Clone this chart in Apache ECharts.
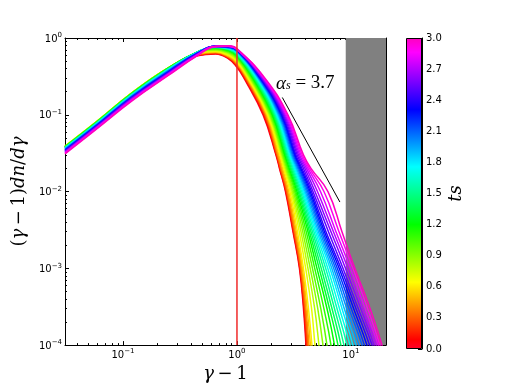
<!DOCTYPE html>
<html><head><meta charset="utf-8">
<script src="https://cdn.jsdelivr.net/npm/echarts@6/dist/echarts.min.js"></script>
<style>html,body{margin:0;padding:0;background:#fff}#c{width:518px;height:388px}</style>
</head><body><div id="c"></div>
<script>
// ---- data: one curve per ts value ----
const ts = [0.0,0.1,0.2,0.3,0.4,0.5,0.6,0.7,0.8,0.9,1.0,1.1,1.2,1.3,1.4,1.5,1.6,1.7,1.8,1.9,2.0,2.1,2.2,2.3,2.4,2.5,2.6,2.7,2.8,2.9,3.0];

// low-energy part: y value of every curve at fixed gamma-1
const lowX = [0.031, 0.06, 0.12, 0.25, 0.45, 0.65, 0.85, 1.0];
const yAt0031 = [.0370,.0373,.0377,.0380,.0383,.0387,.0390,.0388,.0387,.0385,.0383,.0382,.0380,.0378,.0375,.0373,.0370,.0368,.0365,.0361,.0357,.0353,.0348,.0344,.0340,.0335,.0330,.0325,.0320,.0315,.0310];
const yAt006 = [.0800,.0807,.0813,.0820,.0827,.0833,.0840,.0837,.0833,.0830,.0827,.0823,.0820,.0813,.0807,.0800,.0793,.0787,.0780,.0772,.0763,.0755,.0747,.0738,.0730,.0720,.0710,.0700,.0690,.0680,.0670];
const yAt012 = [.1860,.1873,.1887,.1900,.1913,.1927,.1940,.1933,.1927,.1920,.1913,.1907,.1900,.1883,.1867,.1850,.1833,.1817,.1800,.1778,.1757,.1735,.1713,.1692,.1670,.1645,.1620,.1595,.1570,.1545,.1520];
const yAt025 = [.395,.3975,.400,.4025,.405,.4075,.410,.4092,.4083,.4075,.4067,.4058,.405,.4017,.3983,.395,.3917,.3883,.385,.380,.375,.370,.365,.360,.355,.350,.345,.340,.335,.330,.325];
const yAt045 = [.585,.5917,.5983,.605,.6117,.6183,.625,.6308,.6367,.6425,.6483,.6542,.660,.6583,.6567,.655,.6533,.6517,.650,.6458,.6417,.6375,.6333,.6292,.625,.6192,.6133,.6075,.6017,.5958,.590];
const yAt065 = [.620,.6275,.635,.6425,.650,.6575,.665,.6783,.6917,.705,.7183,.7317,.745,.7492,.7533,.7575,.7617,.7658,.770,.7717,.7733,.775,.7767,.7783,.780,.7792,.7783,.7775,.7767,.7758,.775];
const yAt085 = [.530,.540,.550,.560,.570,.580,.590,.6067,.6233,.640,.6567,.6733,.690,.6975,.705,.7125,.720,.7275,.735,.7408,.7467,.7525,.7583,.7642,.770,.7733,.7767,.780,.7833,.7867,.790];
const yAt1 = [.415,.4275,.440,.4525,.465,.4775,.490,.5067,.5233,.540,.5567,.5733,.590,.6008,.6117,.6225,.6333,.6442,.655,.6633,.6717,.680,.6883,.6967,.705,.7083,.7117,.715,.7183,.7217,.725];

// high-energy tail: gamma-1 at which every curve crosses fixed levels
const tailLevels = [0.3, 0.1, 0.03, 0.02, 0.01, 0.003, 0.001, 0.0003, 0.0001, 0.00003];
const xAt03 = [1.152,1.168,1.183,1.199,1.216,1.231,1.249,1.269,1.293,1.313,1.335,1.359,1.382,1.403,1.424,1.446,1.468,1.490,1.513,1.532,1.551,1.568,1.585,1.604,1.624,1.647,1.667,1.691,1.715,1.735,1.760];
const xAt01 = [1.691,1.717,1.742,1.769,1.796,1.823,1.851,1.881,1.916,1.947,1.979,2.015,2.048,2.081,2.119,2.154,2.189,2.229,2.266,2.303,2.345,2.383,2.422,2.467,2.507,2.552,2.600,2.650,2.702,2.752,2.801];
const xAt003 = [2.198,2.216,2.234,2.257,2.289,2.331,2.383,2.422,2.467,2.507,2.547,2.594,2.637,2.686,2.735,2.788,2.841,2.894,2.946,3.000,3.055,3.115,3.175,3.233,3.293,3.377,3.463,3.552,3.643,3.736,3.831];
const xAt002 = [2.360,2.379,2.397,2.427,2.462,2.512,2.568,2.618,2.669,2.721,2.774,2.827,2.882,2.941,3.000,3.065,3.130,3.194,3.260,3.333,3.408,3.480,3.555,3.636,3.717,3.831,3.949,4.071,4.196,4.325,4.458];
const xAt001 = [2.664,2.688,2.713,2.746,2.788,2.847,2.917,2.988,3.055,3.130,3.207,3.280,3.360,3.442,3.519,3.606,3.695,3.778,3.870,3.969,4.071,4.175,4.282,4.391,4.503,4.642,4.834,5.084,5.401,5.797,6.285];
const xAt3em3 = [3.099,3.127,3.156,3.194,3.243,3.313,3.394,3.516,3.643,3.774,3.909,4.050,4.196,4.325,4.458,4.595,4.737,4.883,5.033,5.188,5.347,5.511,5.681,5.856,6.036,6.348,6.678,7.023,7.388,7.849,8.34];
const xAt1em3 = [3.533,3.562,3.592,3.628,3.680,3.747,3.831,4.009,4.196,4.391,4.595,4.809,5.033,5.261,5.489,5.738,6.000,6.259,6.544,6.787,7.052,7.313,7.584,7.880,8.17,8.51,8.95,9.41,9.90,10.4,10.8];
const xAt3em4 = [3.831,3.870,3.909,3.961,4.030,4.124,4.238,4.512,4.804,5.110,5.434,5.786,6.159,6.478,6.814,7.167,7.539,7.928,8.34,8.73,9.17,9.60,10.06,10.55,11.06,11.58,12.17,12.7,13.3,14.0,14.7];
const xAt1em4 = [4.030,4.071,4.112,4.196,4.282,4.413,4.549,4.834,5.240,5.681,6.159,6.678,7.167,7.692,8.17,8.68,9.22,9.80,10.4,11.06,11.75,12.5,13.1,13.8,14.55,15.3,15.9,16.6,17.3,17.96,18.7];
const xAt3em5 = [4.196,4.256,4.317,4.395,4.503,4.651,4.834,5.261,5.715,6.221,6.773,7.358,8.01,8.63,9.28,10.0,10.75,11.58,12.5,13.25,14.2,15.15,16.1,17.2,18.3,19.2,20.0,20.9,21.8,22.8,23.8];

// annotations
const redLineX = 1.0;
const grayStartX = 9.0;
const slopeX = [2.5, 8.0];
const slopeY = [0.168, 0.0073];
const slopeText = '3.7';

// axes
const X_MIN = 0.031, X_MAX = 20.3, Y_MIN = 1e-4, Y_MAX = 1;
const majorX = [0.1, 1, 10];
const minorX = [0.04,0.05,0.06,0.07,0.08,0.09,0.2,0.3,0.4,0.5,0.6,0.7,0.8,0.9,2,3,4,5,6,7,8,9,20];
const majorY = [1e-4, 1e-3, 1e-2, 1e-1, 1];
const minorY = [2e-4,3e-4,4e-4,5e-4,6e-4,7e-4,8e-4,9e-4,2e-3,3e-3,4e-3,5e-3,6e-3,7e-3,8e-3,9e-3,2e-2,3e-2,4e-2,5e-2,6e-2,7e-2,8e-2,9e-2,0.2,0.3,0.4,0.5,0.6,0.7,0.8,0.9];
const TS_MIN = 0, TS_MAX = 3, TS_STEP = 0.3;

// ---- gist_rainbow colormap ----
const GR = {
  r: [[0,1],[0.03,1],[0.215,1],[0.4,0],[0.586,0],[0.77,0],[0.954,1],[1,1]],
  g: [[0,0],[0.03,0],[0.215,1],[0.4,1],[0.586,1],[0.77,0],[0.954,0],[1,0]],
  b: [[0,0.16],[0.03,0],[0.215,0],[0.4,0],[0.586,1],[0.77,1],[0.954,1],[1,0.75]]
};
function seg(arr, t) {
  for (let i = 1; i < arr.length; i++) {
    if (t <= arr[i][0]) { const a = arr[i-1], b = arr[i]; const f = (t - a[0]) / (b[0] - a[0]); return a[1] + f * (b[1] - a[1]); }
  }
  return arr[arr.length-1][1];
}
function cmap(t) {
  return 'rgb(' + Math.round(255*seg(GR.r,t)) + ',' + Math.round(255*seg(GR.g,t)) + ',' + Math.round(255*seg(GR.b,t)) + ')';
}
const cbStops = GR.r.map((p) => ({offset: p[0], color: cmap(p[0])}));

const lowCols = [yAt0031, yAt006, yAt012, yAt025, yAt045, yAt065, yAt085, yAt1];
const tailCols = [xAt03, xAt01, xAt003, xAt002, xAt001, xAt3em3, xAt1em3, xAt3em4, xAt1em4, xAt3em5];

const TICK_FONT = 'DejaVu Sans';
const MATH_FONT = 'DejaVu Serif';
function supLabel(v) {
  const e = Math.round(Math.log10(v));
  return '{b|10}{s|' + (e < 0 ? '\u2212' + (-e) : e) + '}';
}
const supRich = {
  b: {fontFamily: TICK_FONT, fontSize: 10, color: '#000', lineHeight: 12, verticalAlign: 'bottom', padding: [4,0,0,0]},
  s: {fontFamily: TICK_FONT, fontSize: 7, color: '#000', lineHeight: 10, verticalAlign: 'top'}
};
const mathRich = {
  i: {fontFamily: MATH_FONT, fontStyle: 'italic', fontSize: 18, color: '#000'},
  r: {fontFamily: MATH_FONT, fontSize: 18, color: '#000'}
};

function axisCommon(type, grid, pos, min, max, ticks, len, line) {
  return {
    type: type, gridIndex: grid, position: pos, min: min, max: max, logBase: 10,
    axisLine: {show: line, onZero: false, lineStyle: {color: '#000', width: 1}},
    axisTick: {show: true, inside: true, length: len, customValues: ticks, lineStyle: {color: '#000', width: 1}},
    axisLabel: {show: false},
    splitLine: {show: false}, minorTick: {show: false}, minorSplitLine: {show: false}
  };
}

const xMain = axisCommon('log', 0, 'bottom', X_MIN, X_MAX, majorX, 4, true);
xMain.axisLabel = {show: true, customValues: majorX, formatter: supLabel, rich: supRich, margin: 3};
xMain.name = '{i|\u03b3}{r|\u2009\u2212\u20091}';
xMain.nameLocation = 'middle';
xMain.nameGap = 14;
xMain.nameTextStyle = {rich: mathRich};

const yMain = axisCommon('log', 0, 'left', Y_MIN, Y_MAX, majorY, 4, true);
yMain.axisLabel = {show: true, customValues: majorY, formatter: supLabel, rich: supRich, margin: 3};
yMain.name = '{r|(}{i|\u03b3}{r|\u2009\u2212\u20091)}{i|dn}{r|/}{i|d\u03b3}';
yMain.nameLocation = 'middle';
yMain.nameGap = 28;
yMain.nameRotate = 90;
yMain.nameTextStyle = {rich: mathRich};

const option = {
  animation: false,
  backgroundColor: '#fff',
  grid: [
    {left: 65, top: 38, width: 321, height: 311, containLabel: false},
    {left: 406, top: 38, width: 16, height: 311, containLabel: false}
  ],
  xAxis: [
    xMain,
    axisCommon('log', 0, 'bottom', X_MIN, X_MAX, minorX, 2, false),
    axisCommon('log', 0, 'top', X_MIN, X_MAX, majorX, 4, true),
    axisCommon('log', 0, 'top', X_MIN, X_MAX, minorX, 2, false),
    {type: 'category', gridIndex: 1, data: ['cb'], show: false}
  ],
  yAxis: [
    yMain,
    axisCommon('log', 0, 'left', Y_MIN, Y_MAX, minorY, 2, false),
    axisCommon('log', 0, 'right', Y_MIN, Y_MAX, majorY, 4, true),
    axisCommon('log', 0, 'right', Y_MIN, Y_MAX, minorY, 2, false),
    {
      type: 'value', gridIndex: 1, position: 'right', min: TS_MIN, max: TS_MAX, interval: TS_STEP,
      axisLine: {show: true, lineStyle: {color: '#000', width: 1}},
      axisTick: {show: true, inside: true, length: 4, lineStyle: {color: '#000'}},
      axisLabel: {show: true, margin: 4, fontFamily: TICK_FONT, fontSize: 10, color: '#000', formatter: v => v.toFixed(1)},
      splitLine: {show: false},
      name: '{i|ts}', nameLocation: 'middle', nameGap: 25, nameRotate: 90,
      nameTextStyle: {rich: mathRich}
    }
  ],
  graphic: [{
    type: 'text', left: 276, top: 72, z: 100,
    style: {
      text: '{a|\u03b1}{s|s}{e|\u2005=\u2005' + slopeText + '}',
      rich: {
        a: {fontFamily: 'Liberation Serif', fontStyle: 'italic', fontSize: 19, lineHeight: 18, verticalAlign: 'top', fill: '#000'},
        s: {fontFamily: 'Liberation Serif', fontStyle: 'italic', fontSize: 12, lineHeight: 12, verticalAlign: 'bottom', padding: [8,0,0,0], fill: '#000'},
        e: {fontFamily: 'Liberation Serif', fontSize: 19, lineHeight: 18, verticalAlign: 'top', fill: '#000'}
      }
    }
  }],
  series: []
};

// gray shaded region
option.series.push({
  type: 'line', xAxisIndex: 0, yAxisIndex: 0, silent: true, z: 1,
  data: [[grayStartX, Y_MAX], [X_MAX, Y_MAX]],
  symbol: 'none', lineStyle: {width: 0, opacity: 0},
  areaStyle: {color: '#808080', opacity: 1, origin: 'start'}
});

ts.forEach((t, i) => {
  const data = lowX.map((x, j) => [x, lowCols[j][i]])
    .concat(tailLevels.map((lv, k) => [tailCols[k][i], lv]));
  option.series.push({
    type: 'line', xAxisIndex: 0, yAxisIndex: 0, silent: true, z: 2,
    data: data, showSymbol: false, symbol: 'none', clip: true,
    smooth: 0.45,
    lineStyle: {color: cmap(t / TS_MAX), width: 1.5}
  });
});

// red vertical line
option.series.push({
  type: 'line', xAxisIndex: 0, yAxisIndex: 0, silent: true, z: 5,
  data: [[redLineX, Y_MIN], [redLineX, Y_MAX]], symbol: 'none',
  lineStyle: {color: '#f02a2a', width: 1.5}
});
// power-law guide
option.series.push({
  type: 'line', xAxisIndex: 0, yAxisIndex: 0, silent: true, z: 5,
  data: slopeX.map((x, i) => [x, slopeY[i]]), symbol: 'none',
  lineStyle: {color: '#000', width: 1}
});
// colorbar
option.series.push({
  type: 'bar', xAxisIndex: 4, yAxisIndex: 4, silent: true,
  data: [TS_MAX], barWidth: '100%',
  itemStyle: {color: new echarts.graphic.LinearGradient(0, 1, 0, 0, cbStops), borderColor: '#000', borderWidth: 1}
});

const chart = echarts.init(document.getElementById('c'));
chart.setOption(option);
</script></body></html>
